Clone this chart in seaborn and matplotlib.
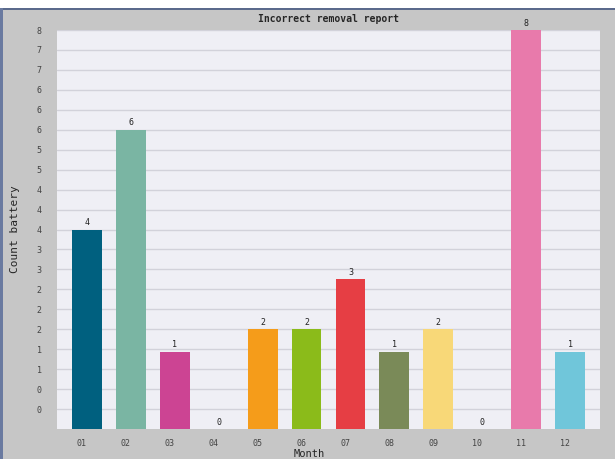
import numpy as np
import pandas as pd
import matplotlib
matplotlib.use('Agg')
import matplotlib.pyplot as plt
import matplotlib.transforms as mtransforms
import seaborn as sns

# data
months = ['01', '02', '03', '04', '05', '06', '07', '08', '09', '10', '11', '12']
counts = [4, 6, 1.55, 0, 2, 2, 3, 1.55, 2, 0, 8, 1.55]
bar_colors = ['#00607f', '#7ab5a3', '#cc4493', '#b0b0b0', '#f59c1a', '#8bbb1a',
              '#e63e44', '#7a8a58', '#f8d878', '#b0b0b0', '#e87aab', '#70c6da']
ytick_values = np.arange(1, 21) * 0.4

df = pd.DataFrame({'Month': months, 'Count': counts})

sns.set_style('white')
plt.rcParams['font.family'] = ['DejaVu Sans Mono']

fig = plt.figure(figsize=(6.15, 4.59), dpi=100)
fig.patch.set_facecolor('#c6c6c6')
ax = fig.add_axes([57 / 615, 30 / 459, 543 / 615, 399 / 459])
ax.set_facecolor('#efeff5')

sns.barplot(data=df, x='Month', y='Count', hue='Month', palette=bar_colors,
            legend=False, width=0.68, saturation=1, linewidth=0, ax=ax, zorder=3)

ax.set_xlim(-0.68, 11.68)
ax.set_ylim(0, 8)
ax.set_yticks(ytick_values)
ax.set_yticklabels([str(int(np.floor(v + 1e-9))) for v in ytick_values], fontsize=6, color='#444444')
ax.tick_params(axis='both', length=0)
ax.tick_params(axis='y', pad=11)
ax.tick_params(axis='x', pad=7, labelsize=6, labelcolor='#444444')
# x labels sit a bit left of the bar centres in the reference
offset = mtransforms.ScaledTranslation(-5 / 100, 0, fig.dpi_scale_trans)
for lab in ax.get_xticklabels():
    lab.set_transform(lab.get_transform() + offset)

ax.grid(axis='y', color='#d2d2da', linewidth=1, zorder=0)
ax.set_axisbelow(True)
for s in ax.spines.values():
    s.set_visible(False)

# value labels over the bars
for i, c in enumerate(counts):
    ax.text(i, c + 0.05, str(int(np.floor(c + 1e-9))), ha='center', va='bottom',
            fontsize=6, color='#222222', clip_on=False)

ax.set_title('Incorrect removal report', fontsize=7, fontweight='bold', pad=6)
ax.set_ylabel('Count battery', fontsize=8, labelpad=12)
ax.set_xlabel('Month', fontsize=7.5)
ax.xaxis.set_label_coords(0.465, -0.051)

# window border: white strip on top, dark lines on top and left
fig.patches.append(plt.Rectangle((0, 1 - 8 / 459), 1, 8 / 459, transform=fig.transFigure,
                                 facecolor='white', edgecolor='none', zorder=0))
fig.patches.append(plt.Rectangle((0, 1 - 10 / 459), 1, 2 / 459, transform=fig.transFigure,
                                 facecolor='#5b6a8c', edgecolor='none', zorder=0))
fig.patches.append(plt.Rectangle((0, 0), 3 / 615, 1 - 8 / 459, transform=fig.transFigure,
                                 facecolor='#6a7aa0', edgecolor='none', zorder=0))

fig.savefig('out.png', dpi=100, facecolor=fig.get_facecolor())
